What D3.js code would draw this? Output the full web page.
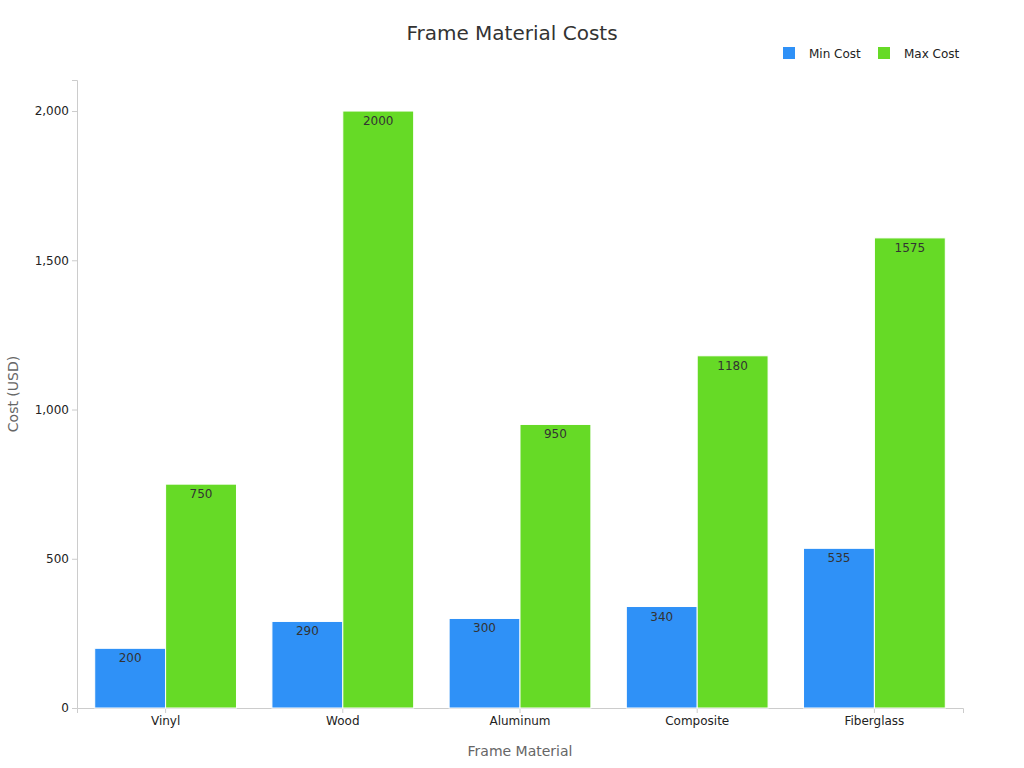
<!DOCTYPE html>
<html><head><meta charset="utf-8">
<script src="https://cdn.jsdelivr.net/npm/d3@7"></script>
<style>body{margin:0;background:#fff;font-family:"DejaVu Sans",sans-serif;}</style>
</head><body><div id="chart"></div>
<script>
var materials = ["Vinyl", "Wood", "Aluminum", "Composite", "Fiberglass"];
var minCost = [200, 290, 300, 340, 535];
var maxCost = [750, 2000, 950, 1180, 1575];
var yTicks = [0, 500, 1000, 1500, 2000];
var seriesNames = ["Min Cost", "Max Cost"];
var colors = ["#2f91f7", "#66da26"];

var width = 1024, height = 768;
var margin = { top: 80, right: 61, bottom: 60, left: 77 };

var svg = d3.select("#chart").append("svg").attr("width", width).attr("height", height);

var x = d3.scaleBand().domain(materials).range([margin.left, width - margin.right]).paddingInner(0.2).paddingOuter(0.1);
var x1 = d3.scaleBand().domain(seriesNames).range([0, x.bandwidth()]);
var y = d3.scaleLinear().domain([0, 2104]).range([height - margin.bottom, margin.top]);

// axes
var gx = svg.append("g").attr("transform", `translate(0,${height - margin.bottom})`)
    .call(d3.axisBottom(x).tickSize(5));
var gy = svg.append("g").attr("transform", `translate(${margin.left},0)`)
    .call(d3.axisLeft(y).tickValues(yTicks).tickSize(5));
[gx, gy].forEach(function(g) {
    g.selectAll("path,line").attr("stroke", "#ccc");
    g.selectAll("text").attr("fill", "#222").style("font-size", "12px").style("font-family", "DejaVu Sans");
});

// bars
var rows = materials.map(function(m, i) { return { m: m, v: [minCost[i], maxCost[i]] }; });
var groups = svg.selectAll(".grp").data(rows).enter().append("g")
    .attr("transform", function(d) { return `translate(${x(d.m)},0)`; });
groups.selectAll("rect").data(function(d) { return d.v.map(function(v, k) { return { k: k, v: v }; }); })
    .enter().append("rect")
    .attr("x", function(d) { return x1(seriesNames[d.k]); })
    .attr("width", x1.bandwidth())
    .attr("y", function(d) { return y(d.v); })
    .attr("height", function(d) { return y(0) - y(d.v); })
    .attr("fill", function(d) { return colors[d.k]; })
    .attr("stroke", "#fff").attr("stroke-width", 1);
groups.selectAll("text").data(function(d) { return d.v.map(function(v, k) { return { k: k, v: v }; }); })
    .enter().append("text")
    .attr("x", function(d) { return x1(seriesNames[d.k]) + x1.bandwidth() / 2; })
    .attr("y", function(d) { return y(d.v) + 14; })
    .attr("text-anchor", "middle").attr("fill", "#333").style("font-size", "12px")
    .text(function(d) { return d.v; });

// title and axis labels
svg.append("text").attr("x", 512).attr("y", 40).attr("text-anchor", "middle")
    .style("font-size", "20px").attr("fill", "#333").text("Frame Material Costs");
svg.append("text").attr("x", (margin.left + width - margin.right) / 2).attr("y", 756).attr("text-anchor", "middle")
    .style("font-size", "14px").attr("fill", "#666").text("Frame Material");
svg.append("text").attr("transform", "translate(18,394) rotate(-90)").attr("text-anchor", "middle")
    .style("font-size", "14px").attr("fill", "#666").text("Cost (USD)");

// legend
var legX = [783, 878];
seriesNames.forEach(function(s, i) {
    svg.append("rect").attr("x", legX[i]).attr("y", 47).attr("width", 12).attr("height", 12).attr("fill", colors[i]);
    svg.append("text").attr("x", legX[i] + 26).attr("y", 58).style("font-size", "12px").attr("fill", "#222").text(s);
});
</script></body></html>
